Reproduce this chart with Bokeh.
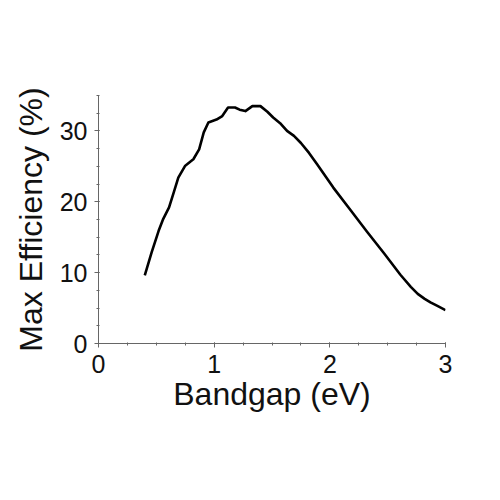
from bokeh.plotting import figure
from bokeh.models import Range1d, SingleIntervalTicker
from bokeh.embed import file_html
from bokeh.resources import INLINE

bandgap = [0.40, 0.46, 0.52, 0.56, 0.61, 0.65, 0.69, 0.75, 0.82, 0.87, 0.91, 0.95,
           1.02, 1.07, 1.12, 1.18, 1.22, 1.27, 1.33, 1.40, 1.46, 1.51, 1.57, 1.63,
           1.69, 1.75, 1.82, 1.89, 2.03, 2.18, 2.32, 2.47, 2.61, 2.70, 2.76, 2.82,
           2.87, 2.93, 3.00]
efficiency = [9.6, 12.9, 15.9, 17.6, 19.2, 21.3, 23.4, 25.1, 26.0, 27.4, 29.8, 31.2,
              31.6, 32.1, 33.3, 33.3, 33.0, 32.8, 33.5, 33.5, 32.7, 31.9, 31.1, 30.0,
              29.3, 28.3, 26.9, 25.3, 22.0, 18.8, 15.8, 12.7, 9.7, 8.0, 7.0, 6.3,
              5.8, 5.3, 4.7]

FONT = "Liberation Sans"
AXIS_COLOR = "#666666"

p = figure(frame_width=347, frame_height=248, output_backend="svg", toolbar_location=None,
           x_range=Range1d(0, 3), y_range=Range1d(0, 35),
           min_border_left=98, min_border_right=37, min_border_top=95, min_border_bottom=130)
p.outline_line_color = None
p.grid.grid_line_color = None
p.background_fill_color = "white"
p.border_fill_color = "white"

p.line(bandgap, efficiency, line_color="black", line_width=2.6, line_join="round")

p.xaxis.ticker = SingleIntervalTicker(interval=1, num_minor_ticks=4)
p.yaxis.ticker = SingleIntervalTicker(interval=10, num_minor_ticks=4)
p.xaxis.axis_label = "Bandgap (eV)"
p.yaxis.axis_label = "Max Efficiency (%)"

for ax in (p.xaxis[0], p.yaxis[0]):
    ax.axis_line_color = AXIS_COLOR
    ax.major_tick_line_color = AXIS_COLOR
    ax.minor_tick_line_color = AXIS_COLOR
    ax.major_tick_out = 4
    ax.major_tick_in = 1
    ax.minor_tick_out = 2
    ax.minor_tick_in = 1
    ax.major_label_text_font = FONT
    ax.major_label_text_font_size = "25px"
    ax.major_label_text_color = "#111111"
    ax.axis_label_text_font = FONT
    ax.axis_label_text_font_size = "32px"
    ax.axis_label_text_font_style = "normal"
    ax.axis_label_text_color = "#111111"

p.xaxis.major_label_standoff = 7
p.xaxis.axis_label_standoff = 0
p.yaxis.major_label_standoff = 7
p.yaxis.axis_label_standoff = 8

open("out.html", "w").write(file_html(p, INLINE))
